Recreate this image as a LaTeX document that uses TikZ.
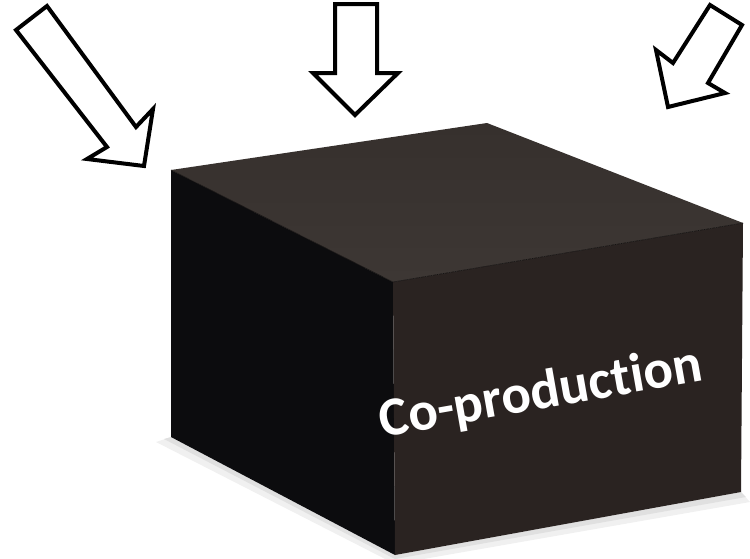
\documentclass[tikz,border=0pt]{standalone}
\usepackage{fontspec}
\setmainfont{Carlito}[Ligatures={NoCommon,NoRare}]
\definecolor{topface}{HTML}{36302D}
\definecolor{topfacelight}{HTML}{3D3734}
\definecolor{leftface}{HTML}{0C0C0E}
\definecolor{frontface}{HTML}{2A2321}
\tikzset{
  bigarrow/.style={draw=black, fill=white, line width=4pt, line join=miter},
}
\begin{document}
\begin{tikzpicture}[x=1pt,y=-1pt]
\useasboundingbox (0,0) rectangle (750,558);
% shadow
\fill[black!6] (156,442) -- (395,564) -- (750,502) -- (741,492) -- (395,555) -- (171,437) -- cycle;
\fill[black!12] (164,439) -- (395,559) -- (746,497) -- (741,492) -- (395,555) -- (171,437) -- cycle;
% box corners
\coordinate (TL) at (171,170);
\coordinate (TB) at (487,123);
\coordinate (TR) at (743,223);
\coordinate (TF) at (393,282);
\coordinate (BL) at (171,437);
\coordinate (BF) at (395,555);
\coordinate (BR) at (741,492);
% faces
\fill[leftface] (TL) -- (TF) -- (BF) -- (BL) -- cycle;
\fill[frontface] (TF) -- (TR) -- (BR) -- (BF) -- cycle;
\shade[top color=topface, bottom color=topfacelight] (TL) -- (TB) -- (TR) -- (TF) -- cycle;
\draw[black!60!topface, line width=0.6pt] (TL) -- (TF) -- (TR);
% label
\node[text=white, rotate=10, font=\bfseries\fontsize{55}{64}\selectfont, inner sep=0pt] (lbl) at (541,394) {Co-production};
% arrows
\draw[bigarrow] (16,30) -- (47,6) -- (136,127) -- (153,109) -- (144,166) -- (87,159) -- (107,147) -- cycle;
\draw[bigarrow] (335,4) -- (377,4) -- (377,73) -- (398,73) -- (355,115) -- (313,73) -- (335,73) -- cycle;
\draw[bigarrow] (710,5) -- (742,25) -- (708,83) -- (725,93) -- (668,107) -- (656,50) -- (673,63) -- cycle;
\end{tikzpicture}
\end{document}
